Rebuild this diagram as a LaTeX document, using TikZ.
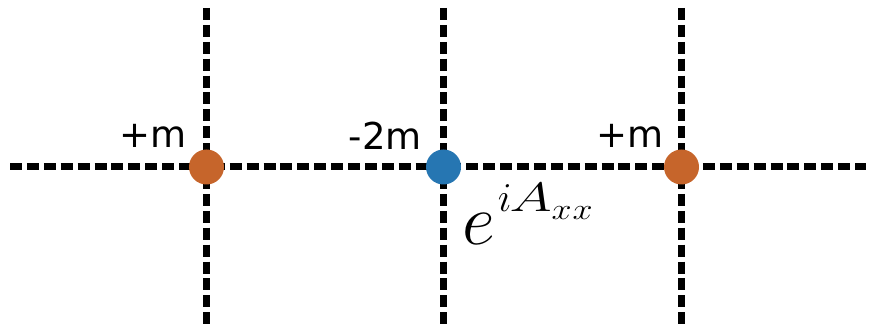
\RequirePackage{fix-cm}
\documentclass[tikz,border=0pt]{standalone}
\usepackage{fontspec}
\usepackage{graphicx}
\newfontfamily\labelfont{DejaVu Sans}
\definecolor{dotorange}{RGB}{198,101,43}
\definecolor{dotblue}{RGB}{38,118,178}
\begin{document}
\begin{tikzpicture}[x=1pt,y=-1pt,
  gridline/.style={line width=7pt,dash pattern=on 12pt off 4.9pt},
  site/.style={circle,inner sep=0pt,minimum size=35pt},
  masslabel/.style={anchor=base east,inner sep=0pt,font=\labelfont\fontsize{37}{40}\selectfont}]
\useasboundingbox (0,0) rectangle (876,326);
% line ends
\coordinate (hl) at (10,167);
\coordinate (hr) at (866,167);
\coordinate (t1) at (206.5,8);
\coordinate (b1) at (206.5,325);
\coordinate (t2) at (443.5,8);
\coordinate (b2) at (443.5,325);
\coordinate (t3) at (681.5,8);
\coordinate (b3) at (681.5,325);
\draw[gridline] (hl) -- (hr);
\draw[gridline] (t1) -- (b1);
\draw[gridline] (t2) -- (b2);
\draw[gridline] (t3) -- (b3);
\node[site,fill=dotorange] (s1) at (206.5,167) {};
\node[site,fill=dotblue] (s2) at (443.5,167) {};
\node[site,fill=dotorange] (s3) at (681.5,167) {};
\node[masslabel] (l1) at (187,148) {+m};
\node[masslabel] (l2) at (422,150) {-2m};
\node[masslabel] (l3) at (664,147.5) {+m};
\node[anchor=base west,inner sep=0pt] (ph) at (462,244)
  {\fontsize{72}{76}\selectfont$e$\hspace{3pt}\raisebox{33pt}{\fontsize{41}{44}\selectfont$i$\hspace{-2pt}\scalebox{1.4}[1]{$A$}\raisebox{-8pt}{\fontsize{30}{32}\selectfont\scalebox{1.2}[1]{$x$}\hspace{1pt}\scalebox{1.2}[1]{$x$}}}};
\end{tikzpicture}
\end{document}
